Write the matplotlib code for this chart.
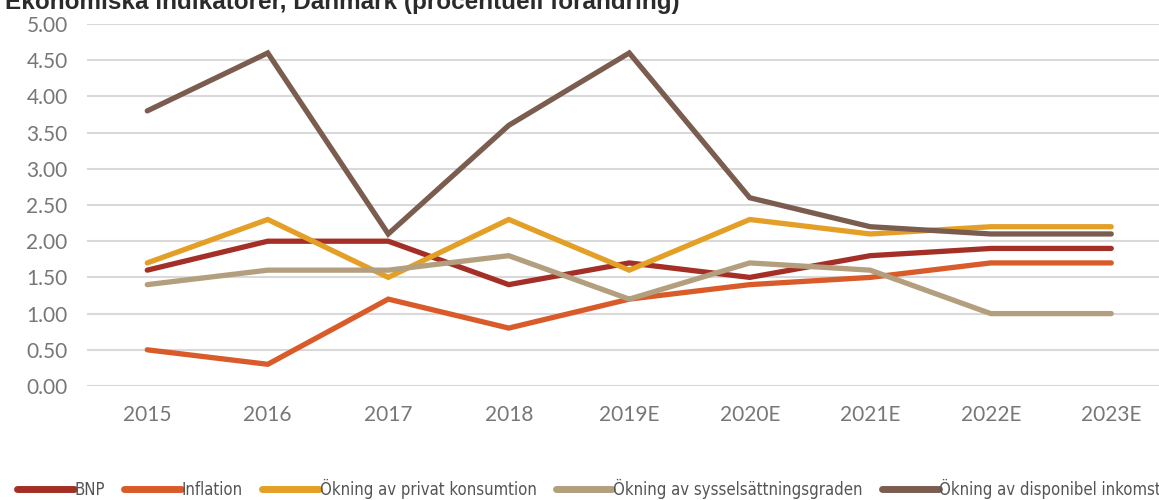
import matplotlib
matplotlib.use("Agg")
import matplotlib.pyplot as plt

# data
years = ["2015", "2016", "2017", "2018", "2019E", "2020E", "2021E", "2022E", "2023E"]
bnp = [1.6, 2.0, 2.0, 1.4, 1.7, 1.5, 1.8, 1.9, 1.9]
inflation = [0.5, 0.3, 1.2, 0.8, 1.2, 1.4, 1.5, 1.7, 1.7]
privat = [1.7, 2.3, 1.5, 2.3, 1.6, 2.3, 2.1, 2.2, 2.2]
syssel = [1.4, 1.6, 1.6, 1.8, 1.2, 1.7, 1.6, 1.0, 1.0]
inkomst = [3.8, 4.6, 2.1, 3.6, 4.6, 2.6, 2.2, 2.1, 2.1]

labels = ["BNP", "Inflation", "Ökning av privat konsumtion",
          "Ökning av sysselsättningsgraden", "Ökning av disponibel inkomst"]
colors = ["#A32F26", "#D95B29", "#E39F26", "#B39F7E", "#7B5D50"]
yticks = [0, 0.5, 1.0, 1.5, 2.0, 2.5, 3.0, 3.5, 4.0, 4.5, 5.0]

plt.rcParams['font.family'] = ['Lato', 'DejaVu Sans']

fig = plt.figure(figsize=(11.59, 5.0), dpi=100)
ax = fig.add_axes([87 / 1159, 1 - 386 / 500, 1084.5 / 1159, 362 / 500])

x = range(len(years))
for series, lab, col in zip([bnp, inflation, privat, syssel, inkomst], labels, colors):
    ax.plot(x, series, color=col, lw=3.8, label=lab, solid_capstyle='round', solid_joinstyle='miter')

ax.set_xlim(-0.5, len(years) - 0.5)
ax.set_ylim(0, 5)
ax.set_yticks(yticks)
ax.set_yticklabels(["%.2f" % v for v in yticks])
ax.set_xticks(list(x))
ax.set_xticklabels(years)
ax.tick_params(length=0, labelsize=15, colors="#777777", pad=14)
ax.tick_params(axis='x', pad=14)
ax.grid(axis='y', color="#d9d9d9", lw=1.5)
ax.set_axisbelow(True)
for s in ax.spines.values():
    s.set_visible(False)

fig.text(0.004, 0.982, "Ekonomiska indikatorer, Danmark (procentuell förändring)",
         fontsize=17.5, fontweight='bold', color="#2b2b2b", va='baseline', ha='left',
         family=['Liberation Sans', 'DejaVu Sans'])

leg = fig.legend(loc='lower left', bbox_to_anchor=(0.002, -0.028), ncol=5, frameon=False,
                 handlelength=3.4, handletextpad=0.05, columnspacing=1.15,
                 prop={'family': 'DejaVu Sans', 'stretch': 'condensed', 'size': 12})
for t in leg.get_texts():
    t.set_color("#555555")
for h in leg.get_lines():
    h.set_linewidth(5)

fig.savefig("out.png", dpi=100)
